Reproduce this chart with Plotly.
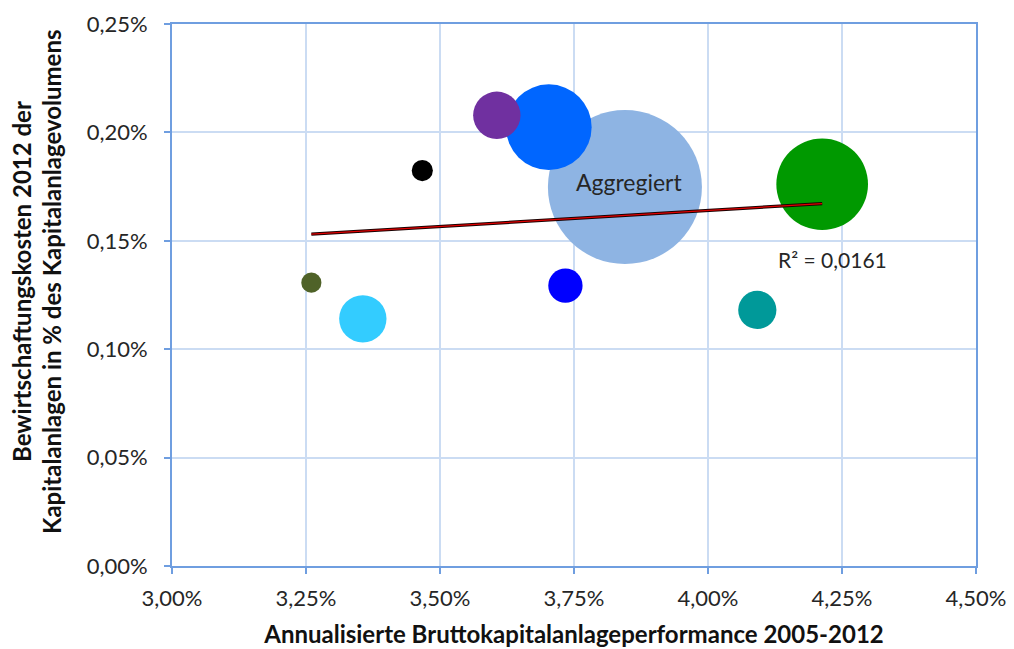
import numpy as np
import plotly.graph_objects as go

# Gross investment performance p.a. 2005-2012 (%) per insurer
perf = [3.260, 3.356, 3.467, 3.606, 3.703, 3.734, 4.092, 4.213]
# Management costs 2012 in % of investment volume
costs = [0.1307, 0.1140, 0.1824, 0.2079, 0.2024, 0.1293, 0.1181, 0.1761]
# Investment volume (relative units) -> bubble area
volume = [4.0, 22.1, 4.4, 22.1, 72.3, 11.6, 14.4, 82.8]
colors = ["#4f6228", "#33ccff", "#000000", "#7030a0", "#0066ff",
          "#0000ff", "#009999", "#009900"]

# Aggregated market
agg_label = "Aggregiert"
agg_perf = 3.845
agg_cost = 0.1748
agg_volume = sum(volume)
agg_color = "#8eb4e3"

r2_text = "R² = 0,0161"

x_ticks = [3.00, 3.25, 3.50, 3.75, 4.00, 4.25, 4.50]
y_ticks = [0.00, 0.05, 0.10, 0.15, 0.20, 0.25]


def pct_label(v):
    return f"{v:.2f}".replace(".", ",") + "%"


FONT = "Lato"
AXIS_BLUE = "#6f9ee0"
GRID_BLUE = "#cbdcf3"
TEXT = "#262626"
TITLE = "#111111"

all_x = np.array(perf + [agg_perf])
all_y = np.array(costs + [agg_cost])
all_v = np.array(volume + [agg_volume])
all_c = np.array(colors + [agg_color])

# larger bubbles go underneath smaller ones
order = np.argsort(-all_v, kind="stable")

max_diam = 154
sizeref = 2.0 * all_v.max() / max_diam ** 2

fig = go.Figure()
fig.add_trace(go.Scatter(
    x=all_x[order], y=all_y[order], mode="markers",
    marker=dict(size=all_v[order], sizemode="area", sizeref=sizeref,
                color=list(all_c[order]), line=dict(width=0), opacity=1),
    hoverinfo="skip", showlegend=False,
))

# linear trend over all points
slope, intercept = np.polyfit(all_x, all_y, 1)
tx = np.array([all_x.min(), all_x.max()])
ty = slope * tx + intercept
fig.add_trace(go.Scatter(x=tx, y=ty, mode="lines",
                         line=dict(color="#1a0000", width=3.2),
                         hoverinfo="skip", showlegend=False))
fig.add_trace(go.Scatter(x=tx, y=ty, mode="lines",
                         line=dict(color="#e00000", width=1.2),
                         hoverinfo="skip", showlegend=False))

fig.add_annotation(x=agg_perf, y=agg_cost, text=agg_label, showarrow=False,
                   yshift=5, xshift=4, font=dict(family=FONT, size=23, color=TEXT))
fig.add_annotation(x=tx[1], y=ty[1], text=r2_text, showarrow=False,
                   xshift=10, yshift=-56, font=dict(family=FONT, size=21, color=TEXT))

# y axis title on two lines
ytitle_y = 0.524
fig.add_annotation(xref="paper", yref="paper", x=0, y=ytitle_y, xshift=-150,
                   text="<b>Bewirtschaftungskosten 2012 der</b>", textangle=-90,
                   showarrow=False, font=dict(family=FONT, size=24, color=TITLE),
                   xanchor="center", yanchor="middle")
fig.add_annotation(xref="paper", yref="paper", x=0, y=ytitle_y, xshift=-120,
                   text="<b>Kapitalanlagen in % des Kapitalanlagevolumens</b>", textangle=-90,
                   showarrow=False, font=dict(family=FONT, size=24, color=TITLE),
                   xanchor="center", yanchor="middle")

axis_common = dict(
    showline=True, linecolor=AXIS_BLUE, linewidth=2, mirror=True,
    showgrid=True, gridcolor=GRID_BLUE, gridwidth=1.5,
    zeroline=False, ticks="outside", ticklen=6, tickwidth=2, tickcolor=AXIS_BLUE,
    tickfont=dict(family=FONT, size=22, color=TEXT), automargin=False,
    tickmode="array",
)

fig.update_xaxes(range=[3.0, 4.5], tickvals=x_ticks, ticktext=[pct_label(v) for v in x_ticks],
                 ticklabelstandoff=6,
                 title=dict(text="<b>Annualisierte Bruttokapitalanlageperformance 2005-2012</b>",
                            font=dict(family=FONT, size=24, color=TITLE), standoff=16),
                 **axis_common)
fig.update_yaxes(range=[0, 0.25], tickvals=y_ticks, ticktext=[pct_label(v) for v in y_ticks],
                 ticklabelstandoff=12, **axis_common)

fig.update_layout(
    width=1014, height=649,
    margin=dict(l=172, r=38, t=24, b=83),
    paper_bgcolor="white", plot_bgcolor="white",
    font=dict(family=FONT),
)

fig.write_html("out.html")
